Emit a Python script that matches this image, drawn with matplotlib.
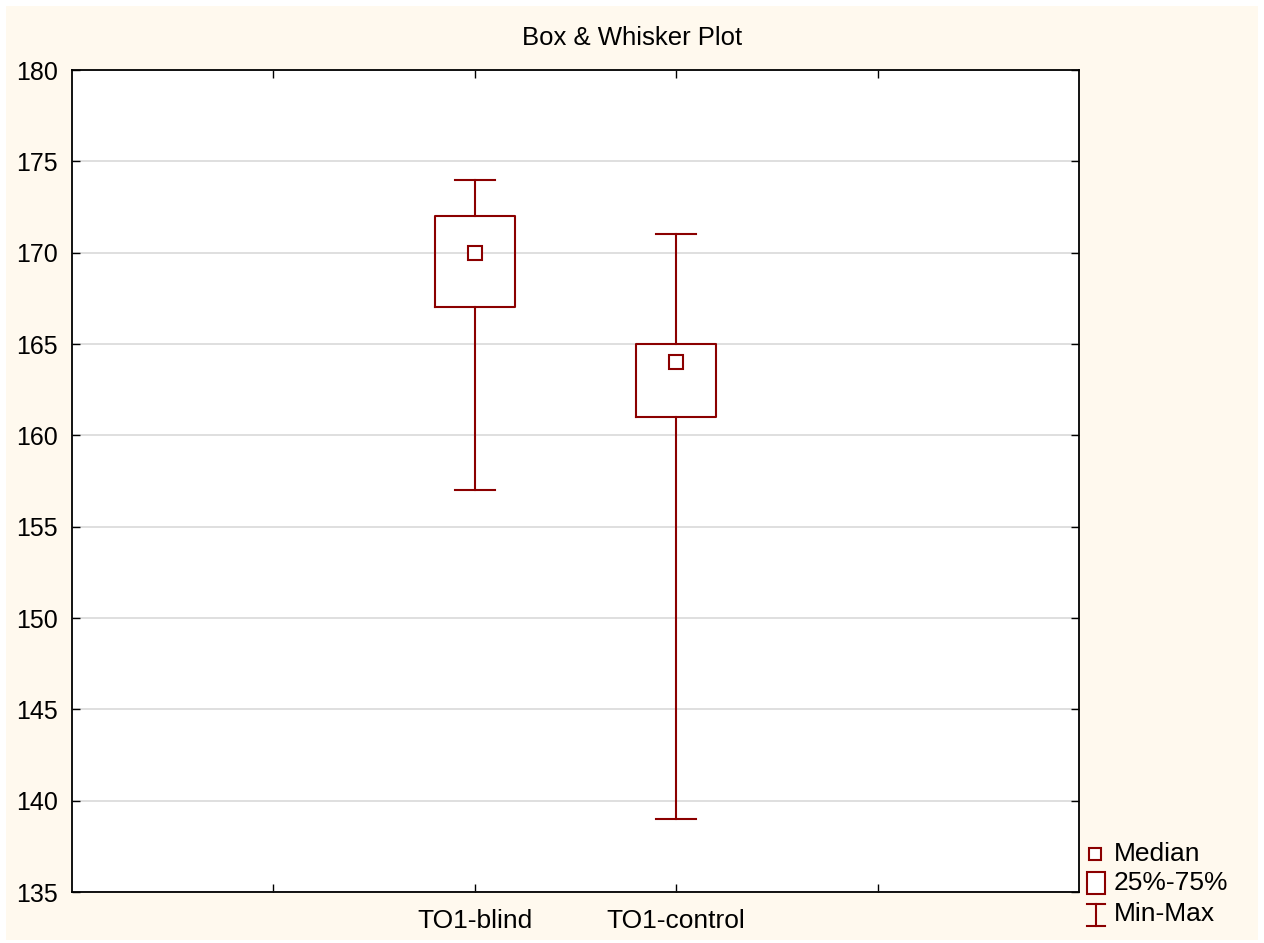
import matplotlib
matplotlib.use("Agg")
import matplotlib.pyplot as plt
from matplotlib.patches import Rectangle
from matplotlib.lines import Line2D

plt.rcParams['font.family'] = ['Liberation Sans', 'DejaVu Sans']

# datos
grupos = ["TO1-blind", "TO1-control"]
minimos = [157, 139]
q1 = [167, 161]
medianas = [170, 164]
q3 = [172, 165]
maximos = [174, 171]

rojo = "#8B0000"

fig = plt.figure(figsize=(12.64, 9.43), dpi=100, facecolor="white")
# fondo crema
fig.patches.append(Rectangle((6/1264, 3/943), 1252/1264, 934/943, transform=fig.transFigure,
                             facecolor="#FFF9EE", edgecolor="none", zorder=-10))
ax = fig.add_axes([72/1264, 1 - 892/943, (1079-72)/1264, (892-70)/943])
ax.set_facecolor("white")

stats = []
for i in range(len(grupos)):
    stats.append({"med": medianas[i], "q1": q1[i], "q3": q3[i],
                  "whislo": minimos[i], "whishi": maximos[i], "label": grupos[i]})

pos = [2, 3]
ax.bxp(stats, positions=pos, widths=0.4, showfliers=False,
       boxprops=dict(color=rojo, linewidth=1.5),
       whiskerprops=dict(color=rojo, linewidth=1.5),
       capprops=dict(color=rojo, linewidth=1.5),
       medianprops=dict(visible=False), capwidths=0.2)
ax.plot(pos, medianas, linestyle="none", marker="s", markersize=10,
        markerfacecolor="white", markeredgecolor=rojo, markeredgewidth=1.5, zorder=5)

ax.set_xlim(0, 5)
ax.set_ylim(135, 180)
ax.set_yticks(range(135, 181, 5))
ax.set_xticks([1, 2, 3, 4])
ax.set_xticklabels(["", grupos[0], grupos[1], ""])
ax.yaxis.grid(True, color="#D9D9D9", linewidth=1.2)
ax.set_axisbelow(True)
ax.tick_params(direction="in", top=True, right=True, length=6, width=1)
ax.tick_params(axis="y", labelsize=18, pad=10)
ax.tick_params(axis="x", labelsize=19, pad=12)
for s in ax.spines.values():
    s.set_linewidth(1.3)

# titulo centrado en la figura
fig.text(632/1264, 1 - 38/943, "Box & Whisker Plot", fontsize=18.5, ha="center", va="center")

# leyenda manual
def fx(px):
    return px / 1264
def fy(py):
    return 1 - py / 943

fig.add_artist(Line2D([fx(1095)], [fy(854)], marker="s", markersize=8, markerfacecolor="white",
                      markeredgecolor=rojo, markeredgewidth=1.5, transform=fig.transFigure))
fig.patches.append(Rectangle((fx(1087), fy(894)), fx(18), 22/943, transform=fig.transFigure,
                             facecolor="white", edgecolor=rojo, linewidth=1.5))
fig.add_artist(Line2D([fx(1096), fx(1096)], [fy(904), fy(926)], color=rojo, linewidth=1.5,
                      transform=fig.transFigure))
fig.add_artist(Line2D([fx(1087), fx(1105)], [fy(904), fy(904)], color=rojo, linewidth=1.5,
                      transform=fig.transFigure))
fig.add_artist(Line2D([fx(1087), fx(1105)], [fy(926), fy(926)], color=rojo, linewidth=1.5,
                      transform=fig.transFigure))
for txt, y in [("Median", 854), ("25%-75%", 883), ("Min-Max", 914)]:
    fig.text(fx(1114), fy(y), txt, fontsize=19, va="center", ha="left")

fig.savefig("out.png", dpi=100, facecolor="white")
